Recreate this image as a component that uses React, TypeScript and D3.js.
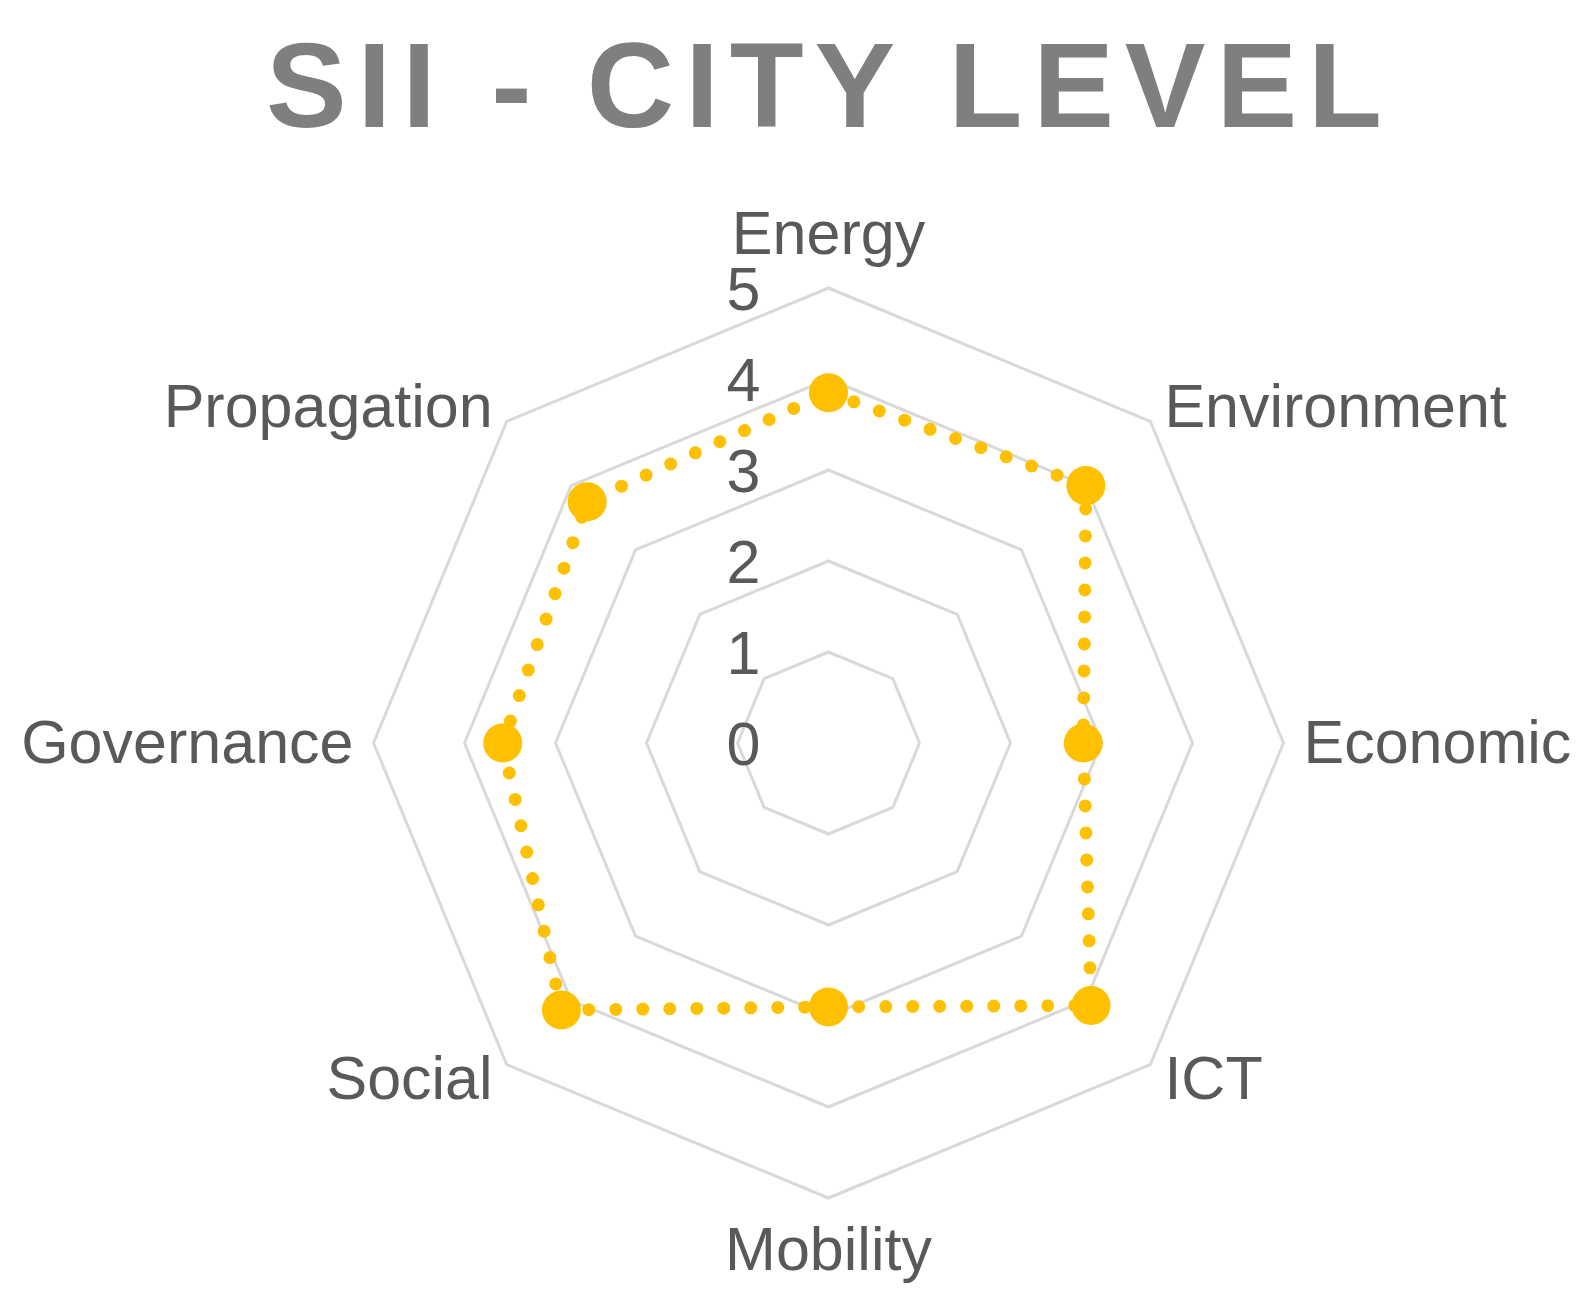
import React, { useEffect, useRef } from "react";
import * as d3 from "d3";

// values
const categories = ["Energy", "Environment", "Economic", "ICT", "Mobility", "Social", "Governance", "Propagation"];
const scores = [3.85, 4.0, 2.8, 4.08, 2.9, 4.15, 3.58, 3.75];
const ticks = [0, 1, 2, 3, 4, 5];

const W = 1593;
const H = 1311;

export default function App() {
  const ref = useRef<SVGSVGElement | null>(null);

  useEffect(() => {
    const svg = d3.select(ref.current);
    svg.selectAll("*").remove();

    const cx = 828.5,
      cy = 743,
      maxR = 455;
    const font = "'Liberation Sans', Arial, sans-serif";
    const fs = 61;

    const r = d3.scaleLinear().domain([0, 5]).range([0, maxR]);
    const step = (2 * Math.PI) / categories.length;
    const ang = (i: number) => i * step - Math.PI / 2;
    const pt = (i: number, v: number): [number, number] => [
      cx + r(v) * Math.cos(ang(i)),
      cy + r(v) * Math.sin(ang(i)),
    ];

    // title
    svg
      .append("text")
      .attr("x", 266)
      .attr("y", 127)
      .attr("textLength", 1116)
      .attr("lengthAdjust", "spacing")
      .attr("font-family", font)
      .attr("font-weight", "bold")
      .attr("font-size", 121)
      .attr("fill", "#7f7f7f")
      .text("SII - CITY LEVEL");

    // grid rings
    const g = svg.append("g");
    ticks
      .filter((t) => t > 0)
      .forEach((t) => {
        const pts = categories.map((_, i) => pt(i, t));
        g.append("path")
          .attr("d", d3.line()(pts) + "Z")
          .attr("fill", "none")
          .attr("stroke", "#d9d9d9")
          .attr("stroke-width", 3)
          .attr("stroke-linejoin", "round");
      });

    // tick labels
    g.selectAll(".tick")
      .data(ticks)
      .enter()
      .append("text")
      .attr("class", "tick")
      .attr("x", cx - 68)
      .attr("y", (d) => cy - r(d) + 22)
      .attr("text-anchor", "end")
      .attr("font-family", font)
      .attr("font-size", fs)
      .attr("fill", "#595959")
      .text((d) => d);

    // category labels
    categories.forEach((c, i) => {
      const cs = Math.cos(ang(i));
      const sn = Math.sin(ang(i));
      const x = cx + (maxR + 20) * cs;
      const y = cy + (maxR + 20) * sn;
      let anchor = "middle";
      if (cs > 0.1) anchor = "start";
      if (cs < -0.1) anchor = "end";
      let dy = 20;
      if (Math.abs(cs) < 0.1) dy += sn > 0 ? 32 : -34;
      svg
        .append("text")
        .attr("x", x)
        .attr("y", y + dy)
        .attr("text-anchor", anchor)
        .attr("font-family", font)
        .attr("font-size", fs)
        .attr("fill", "#595959")
        .text(c);
    });

    // series: dotted outline + markers
    const pts = scores.map((v, i) => pt(i, v));
    svg
      .append("path")
      .attr("d", d3.line()(pts) + "Z")
      .attr("fill", "none")
      .attr("stroke", "#ffc000")
      .attr("stroke-width", 13)
      .attr("stroke-linecap", "round")
      .attr("stroke-dasharray", "0 27");

    svg
      .selectAll(".dot")
      .data(pts)
      .enter()
      .append("circle")
      .attr("class", "dot")
      .attr("cx", (d) => d[0])
      .attr("cy", (d) => d[1])
      .attr("r", 19.5)
      .attr("fill", "#ffc000");
  }, []);

  return (
    <svg
      ref={ref}
      width={W}
      height={H}
      style={{ position: "absolute", left: 0, top: 0, background: "#fff" }}
    />
  );
}
